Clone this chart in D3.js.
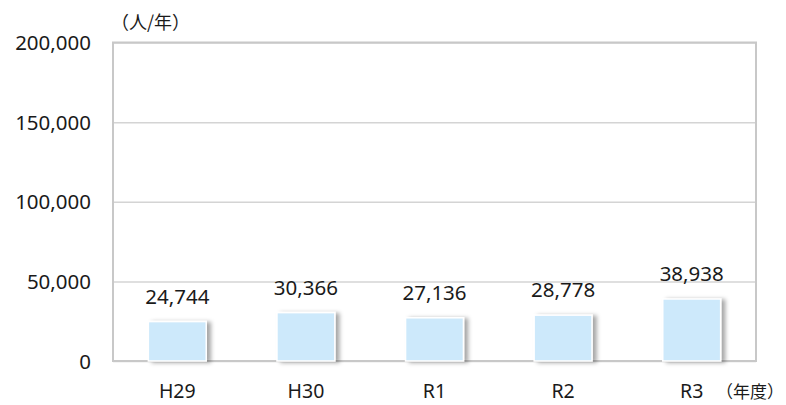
<!DOCTYPE html>
<html>
<head>
<meta charset="utf-8">
<script src="https://cdn.jsdelivr.net/npm/d3@7"></script>
<style>
  html, body { margin: 0; padding: 0; background: #fff; }
  svg { display: block; }
  text { font-family: "Noto Sans", "Noto Sans CJK JP", sans-serif; fill: #1a1a1a; }
</style>
</head>
<body>
<svg id="chart" width="786" height="405"></svg>
<script>
// Annual visitors by fiscal year
const categories = ["H29", "H30", "R1", "R2", "R3"];
const visitors = [24744, 30366, 27136, 28778, 38938];
const yTicks = [0, 50000, 100000, 150000, 200000];
const yUnit = "（人/年）";
const xUnit = "（年度）";

const svg = d3.select("#chart");
const margin = { left: 113, right: 30, top: 42.5, bottom: 44 };
const W = 786, H = 405;

const x = d3.scaleBand()
  .domain(categories)
  .range([margin.left, W - margin.right])
  .paddingInner(0.55)
  .paddingOuter(0.275);

const y = d3.scaleLinear()
  .domain([0, 200000])
  .range([H - margin.bottom, margin.top]);

const fmt = d3.format(",");

// bar shadow
const defs = svg.append("defs");
const f = defs.append("filter").attr("id", "shadow")
  .attr("x", "-20%").attr("y", "-20%").attr("width", "150%").attr("height", "150%");
f.append("feDropShadow")
  .attr("dx", 4).attr("dy", 1).attr("stdDeviation", 2)
  .attr("flood-color", "#000").attr("flood-opacity", 0.35);

// horizontal grid lines
svg.append("g")
  .attr("class", "grid")
  .attr("transform", `translate(${margin.left},0)`)
  .call(d3.axisLeft(y).tickValues(yTicks).tickSize(-(W - margin.left - margin.right)).tickFormat(""))
  .call(g => g.select(".domain").remove())
  .call(g => g.selectAll("line").attr("stroke", "#d4d4d4").attr("stroke-width", 1.5));

// plot frame
svg.append("rect")
  .attr("x", margin.left).attr("y", y(200000))
  .attr("width", W - margin.left - margin.right)
  .attr("height", y(0) - y(200000))
  .attr("fill", "none").attr("stroke", "#c8c8c8").attr("stroke-width", 2);

// y tick labels
svg.append("g")
  .attr("transform", `translate(${margin.left},0)`)
  .call(d3.axisLeft(y).tickValues(yTicks).tickSize(0).tickPadding(22).tickFormat(fmt))
  .call(g => g.select(".domain").remove())
  .call(g => g.selectAll("text")
    .style("font-size", "20.5px")
    .attr("dy", "0.35em"));

// x tick labels
svg.append("g")
  .attr("transform", `translate(0,${y(0)})`)
  .call(d3.axisBottom(x).tickSize(0).tickPadding(23))
  .call(g => g.select(".domain").remove())
  .call(g => g.selectAll("text").style("font-size", "19.5px"));

// bars
svg.append("g").selectAll("rect")
  .data(categories)
  .join("rect")
  .attr("x", d => x(d))
  .attr("y", (d, i) => y(visitors[i]))
  .attr("width", x.bandwidth())
  .attr("height", (d, i) => y(0) - y(visitors[i]))
  .attr("fill", "#cde9fb")
  .attr("stroke", "#ffffff")
  .attr("stroke-width", 1.5)
  .attr("filter", "url(#shadow)");

// value labels
svg.append("g").selectAll("text")
  .data(categories)
  .join("text")
  .attr("x", d => x(d) + x.bandwidth() / 2)
  .attr("y", (d, i) => y(visitors[i]) - 18)
  .attr("text-anchor", "middle")
  .style("font-size", "20.5px")
  .text((d, i) => fmt(visitors[i]));

// unit labels
svg.append("text")
  .attr("x", 111).attr("y", 29)
  .style("font-family", "'Noto Sans CJK JP', sans-serif")
  .style("font-size", "18px")
  .text(yUnit);

svg.append("text")
  .attr("x", 784).attr("y", 398)
  .attr("text-anchor", "end")
  .style("font-family", "'Noto Sans CJK JP', sans-serif")
  .style("font-size", "17px")
  .text(xUnit);
</script>
</body>
</html>
